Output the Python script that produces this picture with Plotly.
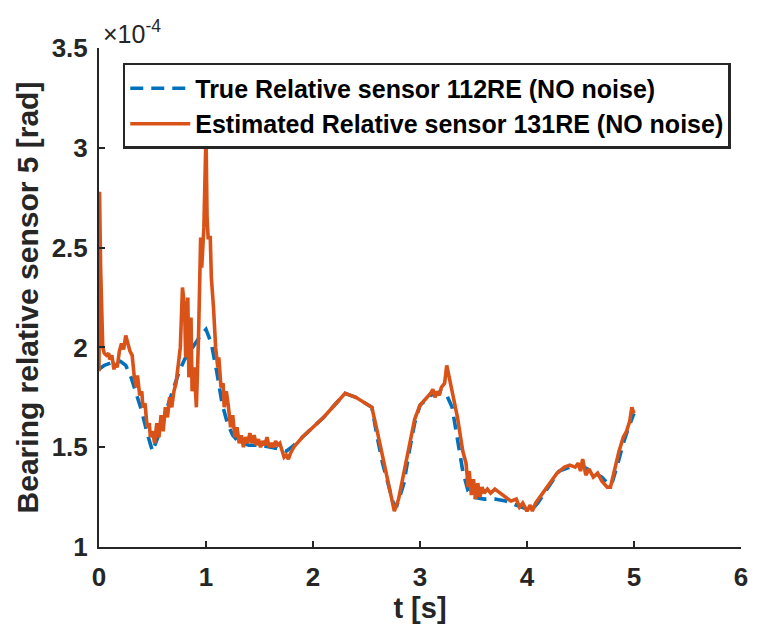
import plotly.graph_objects as go

# True relative sensor (scaled by 1e-4)
t_true = [0.00, 0.05, 0.10, 0.15, 0.20, 0.25, 0.30, 0.35, 0.40, 0.45, 0.50, 0.55, 0.60, 0.65,
          0.70, 0.75, 0.80, 0.85, 0.90, 0.95, 1.00, 1.05, 1.10, 1.15, 1.20, 1.25, 1.30, 1.40,
          1.50, 1.60, 1.70, 1.75, 1.80, 1.90, 2.00, 2.10, 2.20, 2.30, 2.40, 2.50, 2.55, 2.60,
          2.65, 2.70, 2.75, 2.78, 2.85, 2.90, 2.95, 3.00, 3.10, 3.20, 3.25, 3.30, 3.35, 3.40,
          3.45, 3.50, 3.60, 3.70, 3.80, 3.90, 4.00, 4.05, 4.10, 4.20, 4.30, 4.40, 4.50, 4.60,
          4.70, 4.77, 4.80, 4.85, 4.90, 4.95, 5.00]
v_true = [1.89, 1.91, 1.92, 1.93, 1.93, 1.91, 1.85, 1.77, 1.68, 1.57, 1.48, 1.55, 1.64, 1.72,
          1.80, 1.88, 1.94, 1.98, 2.02, 2.06, 2.09, 2.02, 1.88, 1.72, 1.62, 1.56, 1.53, 1.51,
          1.51, 1.50, 1.49, 1.48, 1.50, 1.55, 1.60, 1.65, 1.71, 1.77, 1.75, 1.72, 1.70, 1.55,
          1.42, 1.32, 1.22, 1.20, 1.32, 1.48, 1.62, 1.71, 1.76, 1.78, 1.76, 1.70, 1.55, 1.38,
          1.28, 1.25, 1.24, 1.24, 1.23, 1.21, 1.19, 1.19, 1.22, 1.30, 1.38, 1.40, 1.41, 1.38,
          1.35, 1.31, 1.33, 1.42, 1.52, 1.60, 1.67]

# Estimated relative sensor (scaled by 1e-4)
t_est = [0.000, 0.005, 0.015, 0.025, 0.035, 0.05, 0.07, 0.09, 0.10, 0.12, 0.14, 0.15, 0.17,
         0.19, 0.21, 0.23, 0.25, 0.27, 0.29, 0.31, 0.33, 0.35, 0.36, 0.38, 0.40, 0.41, 0.43,
         0.45, 0.47, 0.48, 0.50, 0.52, 0.54, 0.56, 0.58, 0.60, 0.62, 0.64, 0.66, 0.68, 0.70,
         0.72, 0.74, 0.76, 0.77, 0.78, 0.80, 0.81, 0.82, 0.83, 0.84, 0.86, 0.87, 0.89, 0.91,
         0.93, 0.95, 0.96, 0.98, 1.00, 1.01, 1.02, 1.04, 1.05, 1.07, 1.09, 1.11, 1.12, 1.14,
         1.16, 1.17, 1.19, 1.21, 1.23, 1.25, 1.27, 1.29, 1.31, 1.33, 1.35, 1.37, 1.39, 1.41,
         1.43, 1.45, 1.47, 1.49, 1.51, 1.53, 1.55, 1.57, 1.59, 1.61, 1.63, 1.65, 1.67, 1.69,
         1.71, 1.73, 1.75, 1.77, 1.79, 1.82, 1.90, 2.00, 2.10, 2.20, 2.30, 2.40, 2.50, 2.55,
         2.60, 2.65, 2.70, 2.76, 2.80, 2.85, 2.90, 2.95, 3.00, 3.05, 3.10, 3.12, 3.14, 3.16,
         3.18, 3.20, 3.23, 3.25, 3.27, 3.30, 3.35, 3.40, 3.43, 3.45, 3.46, 3.48, 3.50, 3.52,
         3.54, 3.56, 3.58, 3.60, 3.63, 3.66, 3.70, 3.75, 3.80, 3.85, 3.90, 3.93, 3.96, 4.00,
         4.03, 4.05, 4.08, 4.12, 4.20, 4.28, 4.35, 4.40, 4.45, 4.48, 4.50, 4.52, 4.55, 4.58,
         4.62, 4.66, 4.70, 4.75, 4.78, 4.82, 4.86, 4.90, 4.93, 4.96, 4.98, 5.00]
v_est = [1.88, 2.78, 2.40, 2.10, 2.00, 1.97, 1.96, 1.97, 1.94, 1.96, 1.89, 1.92, 1.90,
         1.98, 2.02, 1.99, 2.06, 2.02, 1.98, 1.96, 1.85, 1.80, 1.86, 1.76, 1.78, 1.70, 1.72,
         1.60, 1.62, 1.55, 1.58, 1.52, 1.62, 1.55, 1.66, 1.58, 1.70, 1.65, 1.75, 1.70, 1.78,
         1.82, 1.90, 2.00, 2.15, 2.30, 2.20, 1.95, 2.10, 2.25, 1.85, 2.15, 1.78, 1.90, 1.70,
         2.05, 2.55, 2.40, 2.60, 3.07, 2.65, 2.55, 2.55, 2.35, 2.20, 2.00, 1.90, 1.95, 1.80,
         1.82, 1.70, 1.78, 1.70, 1.60, 1.66, 1.55, 1.60, 1.52, 1.56, 1.50, 1.55, 1.52, 1.57,
         1.52, 1.56, 1.51, 1.54, 1.50, 1.53, 1.51, 1.55, 1.50, 1.52, 1.50, 1.53, 1.51, 1.52,
         1.48, 1.45, 1.46, 1.44, 1.47, 1.50, 1.55, 1.60, 1.65, 1.71, 1.77, 1.75, 1.72, 1.70,
         1.58, 1.46, 1.34, 1.18, 1.24, 1.38, 1.52, 1.64, 1.71, 1.74, 1.77, 1.79, 1.75, 1.78,
         1.76, 1.80, 1.82, 1.91, 1.86, 1.78, 1.65, 1.48, 1.42, 1.30, 1.38, 1.26, 1.34, 1.24,
         1.32, 1.25, 1.30, 1.27, 1.29, 1.27, 1.29, 1.27, 1.25, 1.23, 1.24, 1.20, 1.22, 1.18,
         1.21, 1.18, 1.22, 1.25, 1.31, 1.37, 1.40, 1.41, 1.40, 1.42, 1.38, 1.44, 1.36, 1.39,
         1.35, 1.37, 1.33, 1.30, 1.30, 1.40, 1.48, 1.55, 1.58, 1.63, 1.70, 1.67]

x_ticks = [0, 1, 2, 3, 4, 5, 6]
y_ticks = [1, 1.5, 2, 2.5, 3, 3.5]
y_tick_labels = ["1", "1.5", "2", "2.5", "3", "3.5"]

FONT = "Liberation Sans, Arial, sans-serif"
AX = "#262626"

fig = go.Figure()
fig.add_trace(go.Scatter(x=t_true, y=v_true, mode="lines",
                         name="<b>True Relative sensor 112RE (NO noise)</b>",
                         line=dict(color="#0072BD", width=3.6, dash="13px,8px")))
fig.add_trace(go.Scatter(x=t_est, y=v_est, mode="lines",
                         name="<b>Estimated Relative sensor 131RE (NO noise)</b>",
                         line=dict(color="#D95319", width=3.6)))

fig.update_layout(
    width=758, height=633,
    margin=dict(l=99, r=10, t=48, b=86),
    paper_bgcolor="white", plot_bgcolor="white",
    font=dict(family=FONT, color="black"),
    showlegend=True,
    legend=dict(x=0.037, y=0.97, xanchor="left", yanchor="top",
                bgcolor="white", bordercolor="#262626", borderwidth=2.5,
                font=dict(family=FONT, size=25, color="black"),
                tracegroupgap=0, itemwidth=60),
    xaxis=dict(range=[0, 6], tickmode="array", tickvals=x_ticks,
               ticktext=[f"<b>{v}</b>" for v in x_ticks],
               ticks="inside", ticklen=6, tickwidth=2, tickcolor=AX,
               showline=True, linecolor=AX, linewidth=2, showgrid=False, zeroline=False,
               ticklabelstandoff=6,
               tickfont=dict(family=FONT, size=26, color=AX),
               title=dict(text="<b>t [s]</b>", font=dict(family=FONT, size=29, color=AX),
                          standoff=4)),
    yaxis=dict(range=[1, 3.5], tickmode="array", tickvals=y_ticks,
               ticktext=[f"<b>{s}</b>" for s in y_tick_labels],
               ticks="inside", ticklen=6, tickwidth=2, tickcolor=AX,
               showline=True, linecolor=AX, linewidth=2, showgrid=False, zeroline=False,
               ticklabelstandoff=4,
               tickfont=dict(family=FONT, size=26, color=AX),
               title=dict(text="<b>Bearing relative sensor 5 [rad]</b>",
                          font=dict(family=FONT, size=30, color=AX), standoff=4)),
)

fig.add_annotation(text="×10<sup>-4</sup>", xref="paper", yref="paper",
                   x=0.0, y=1.0, xanchor="left", yanchor="bottom", showarrow=False,
                   font=dict(family=FONT, size=25, color=AX), xshift=2, yshift=-2)

fig.write_html("out.html")
